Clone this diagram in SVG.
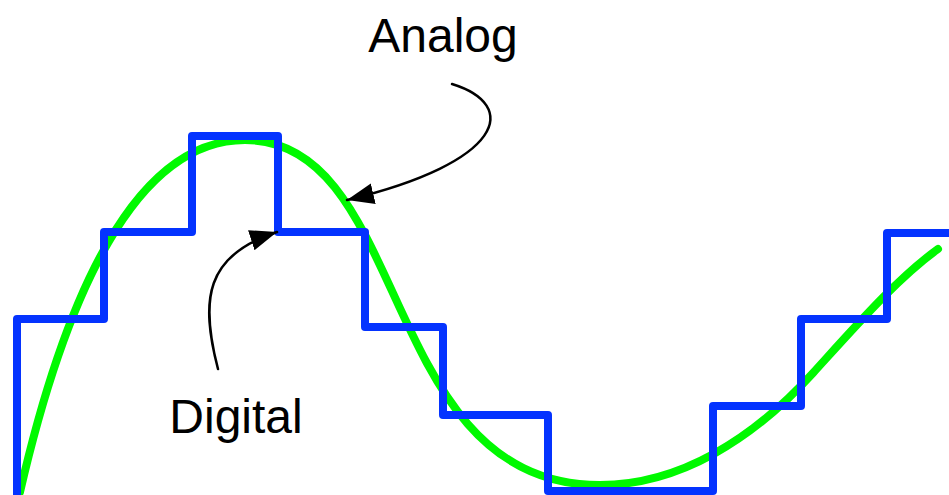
<svg xmlns="http://www.w3.org/2000/svg" width="949" height="495" viewBox="0 0 949 495">
  <style>
    .analog { fill: none; stroke: #00F900; stroke-width: 8; stroke-linecap: round; stroke-linejoin: round; }
    .digital { fill: none; stroke: #0433FF; stroke-width: 8; stroke-linecap: butt; stroke-linejoin: round; }
    .conn { fill: none; stroke: #000000; stroke-width: 2.5; stroke-linecap: round; marker-end: url(#arrow); }
    .label { font-family: "Liberation Sans", Arial, Helvetica, sans-serif; font-size: 48px; fill: #000000; text-anchor: middle; }
  </style>
  <defs>
    <marker id="arrow" markerUnits="userSpaceOnUse" markerWidth="28" markerHeight="22" refX="27" refY="10.5" orient="auto">
      <path d="M0,0 L27,10.5 L0,21 Z" fill="#000000"/>
    </marker>
  </defs>
  <rect x="0" y="0" width="949" height="495" fill="#FFFFFF"/>

  <g id="analog-wave">
    <path class="analog" d="M20,492 C65,296.5 135,140 245,140 C412.5,140 377.5,485 600,485 C680,485 753,439 813,373 C858,323.5 898,277.8 938,249"/>
  </g>

  <g id="digital-wave">
    <path class="digital" d="M17,499 L17,319 L104,319 L104,232 L192,232 L192,136 L278,136 L278,232 L365,232 L365,327 L443,327 L443,415 L548,415 L548,491 L713,491 L713,406 L801,406 L801,319 L887,319 L887,233 L953,233"/>
  </g>

  <g id="label-analog">
    <text class="label" x="443" y="52">Analog</text>
  </g>

  <g id="label-digital">
    <text class="label" x="236" y="433">Digital</text>
  </g>

  <g id="connectors">
    <path id="conn-analog" class="conn" d="M452,84 C520,105 505,162 347,200"/>
    <path id="conn-digital" class="conn" d="M218,369 C200,300 205,255 277,232"/>
  </g>
</svg>
